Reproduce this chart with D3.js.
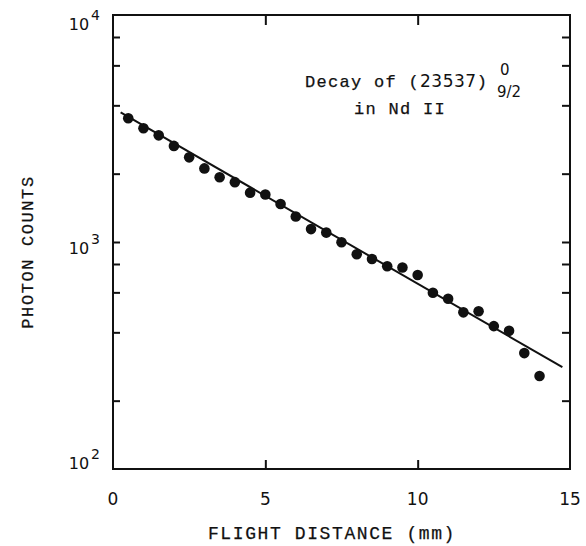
<!DOCTYPE html>
<html>
<head>
<meta charset="utf-8">
<script src="https://cdn.jsdelivr.net/npm/d3@7"></script>
<style>
  body { margin: 0; background: #fff; }
  svg { display: block; }
  .mono { font-family: "Liberation Mono", "DejaVu Sans Mono", monospace; fill: #111; stroke: #111; stroke-width: 0.25px; }
  .num { font-family: "DejaVu Sans", "Liberation Sans", sans-serif; fill: #111; }
</style>
</head>
<body>
<svg id="chart" width="586" height="546"></svg>
<script>
// measured points (flight distance in mm, photon counts)
const distance = [0.5, 1, 1.5, 2, 2.5, 3, 3.5, 4, 4.5, 5, 5.5, 6, 6.5, 7,
  7.5, 8, 8.5, 9, 9.5, 10, 10.5, 11, 11.5, 12, 12.5, 13, 13.5, 14];
const counts = [3510, 3170, 2950, 2650, 2360, 2110, 1930, 1835, 1650, 1620,
  1470, 1295, 1140, 1100, 997, 883, 842, 782, 772, 716, 598, 562, 490, 495,
  426, 406, 324, 257];

// fitted decay line, end points
const fitX = [0.25, 14.75];
const fitY = [3720, 281];

const xTicks = [0, 5, 10, 15];
const yMinor = [200, 400, 600, 800, 1000, 2000, 4000, 6000, 8000];
const yLabels = [2, 3, 4]; // exponents of 10

const svg = d3.select('#chart');
const mLeft = 113, mRight = 570, mTop = 15, mBottom = 469;

const x = d3.scaleLinear().domain([0, 15]).range([mLeft, mRight]);
const y = d3.scaleLog().domain([100, 10000]).range([mBottom, mTop]);

// inner ticks on all four sides
svg.append('g')
  .attr('transform', `translate(${mLeft},0)`)
  .call(d3.axisLeft(y).tickValues(yMinor).tickSize(-7).tickFormat(''))
  .call(g => g.select('.domain').remove());
svg.append('g')
  .attr('transform', `translate(${mRight},0)`)
  .call(d3.axisRight(y).tickValues(yMinor).tickSize(-8).tickFormat(''))
  .call(g => g.select('.domain').remove());
svg.append('g')
  .attr('transform', `translate(0,${mBottom})`)
  .call(d3.axisBottom(x).tickValues([5, 10]).tickSize(-9).tickFormat(''))
  .call(g => g.select('.domain').remove());
svg.append('g')
  .attr('transform', `translate(0,${mTop})`)
  .call(d3.axisTop(x).tickValues([5, 10]).tickSize(-10).tickFormat(''))
  .call(g => g.select('.domain').remove());
svg.selectAll('.tick line').attr('stroke', '#111').attr('stroke-width', 2);

// frame
svg.append('rect')
  .attr('x', mLeft).attr('y', mTop)
  .attr('width', mRight - mLeft).attr('height', mBottom - mTop)
  .attr('fill', 'none').attr('stroke', '#111').attr('stroke-width', 2);

// x tick labels
svg.selectAll('.xlab')
  .data(xTicks)
  .enter()
  .append('text')
  .attr('class', 'num')
  .attr('x', d => x(d))
  .attr('y', 505)
  .attr('text-anchor', 'middle')
  .style('font-size', '17px')
  .text(d => d);

// y tick labels 10^n
const yOff = { 2: 0, 3: 12, 4: 15 };
yLabels.forEach(e => {
  const t = svg.append('text')
    .attr('class', 'num')
    .attr('x', 100)
    .attr('y', y(Math.pow(10, e)) + yOff[e])
    .attr('text-anchor', 'end')
    .style('font-size', '16px');
  t.append('tspan').text('10');
  t.append('tspan').attr('dx', 2).attr('dy', -10).style('font-size', '14px').text(e);
});

// axis titles
svg.append('text')
  .attr('class', 'mono')
  .attr('x', 332).attr('y', 539)
  .attr('text-anchor', 'middle')
  .style('font-size', '18px')
  .style('letter-spacing', '1.6px')
  .text('FLIGHT DISTANCE (mm)');

svg.append('text')
  .attr('class', 'mono')
  .attr('transform', 'translate(33,252) rotate(-90)')
  .attr('text-anchor', 'middle')
  .style('font-size', '17px')
  .style('letter-spacing', '1.6px')
  .text('PHOTON COUNTS');

// annotation
const ann = svg.append('text')
  .attr('class', 'mono')
  .attr('x', 305).attr('y', 87)
  .style('font-size', '17px')
  .style('letter-spacing', '1.3px');
ann.append('tspan').text('Decay of (');
ann.append('tspan').attr('class', 'num').style('stroke', 'none').style('letter-spacing', '0.5px').text('23537');
ann.append('tspan').text(')');
svg.append('text')
  .attr('class', 'num')
  .attr('x', 500).attr('y', 75)
  .style('font-size', '15px')
  .text('0');
svg.append('text')
  .attr('class', 'num')
  .attr('x', 497).attr('y', 97)
  .style('font-size', '15px')
  .text('9/2');
svg.append('text')
  .attr('class', 'mono')
  .attr('x', 400).attr('y', 114)
  .attr('text-anchor', 'middle')
  .style('font-size', '17px')
  .style('letter-spacing', '1.3px')
  .text('in Nd II');

// fit line
svg.append('path')
  .datum(fitX.map((d, i) => [d, fitY[i]]))
  .attr('fill', 'none')
  .attr('stroke', '#111')
  .attr('stroke-width', 2)
  .attr('d', d3.line().x(d => x(d[0])).y(d => y(d[1])));

// data points
svg.selectAll('.pt')
  .data(distance.map((d, i) => ({ d: d, c: counts[i] })))
  .enter()
  .append('circle')
  .attr('class', 'pt')
  .attr('cx', p => x(p.d))
  .attr('cy', p => y(p.c))
  .attr('r', 5.3)
  .attr('fill', '#111');
</script>
</body>
</html>
